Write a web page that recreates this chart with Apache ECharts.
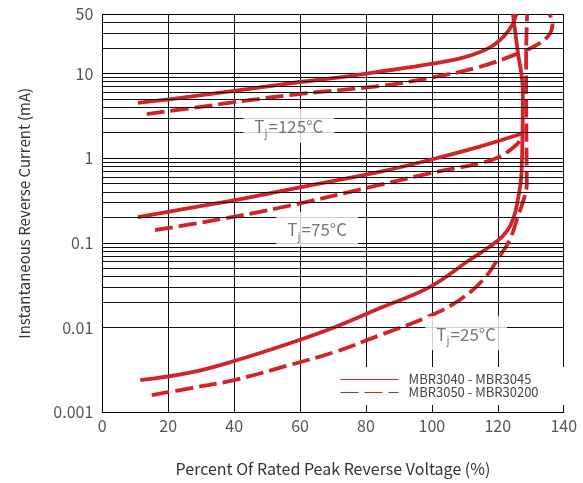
<!DOCTYPE html>
<html>
<head>
<meta charset="utf-8">
<script src="https://cdn.jsdelivr.net/npm/echarts@6/dist/echarts.min.js"></script>
<style>html,body{margin:0;padding:0;background:#fff;}#c{width:583px;height:483px;}</style>
</head>
<body>
<div id="c"></div>
<script>
// ---- data ----
var X_TICKS = [0, 20, 40, 60, 80, 100, 120, 140];
var Y_MINOR = [0.002,0.003,0.004,0.005,0.006,0.007,0.008,0.009,
               0.02,0.03,0.04,0.05,0.06,0.07,0.08,0.09,
               0.2,0.3,0.4,0.5,0.6,0.7,0.8,0.9,
               2,3,4,5,6,7,8,9,
               20,30,40];
var SERIES_NAMES = ['MBR3040 - MBR3045', 'MBR3050 - MBR30200'];
var S125 = [[10.8,4.49],[26.6,5.32],[56.9,7.66],[70,8.8],[84.1,10.5],[99.3,12.9],[110,15.6],[117.5,20.2],[121.8,27.5],[124.3,37],[125.6,50]];
var D125 = [[13.5,3.32],[26.6,3.88],[56.9,5.57],[84.1,7.12],[99.3,8.85],[114.5,12.0],[126.6,17.5],[132.5,22.5],[135.8,29.5],[136.6,39.5],[135.7,50]];
var S75  = [[10.8,0.201],[25,0.252],[40.2,0.32],[53.8,0.405],[60,0.453],[84.1,0.69],[99.3,0.953],[114.5,1.37],[127.6,1.97]];
var D75  = [[16,0.142],[29.6,0.173],[53.8,0.26],[84.1,0.483],[99.3,0.663],[114.5,0.871],[120.5,1.04],[125.6,1.43],[127.3,1.75]];
var S25  = [[11.5,0.0024],[26.6,0.00294],[40,0.00403],[56.9,0.00653],[70.5,0.0101],[84.1,0.0169],[99.3,0.0301],[111.4,0.0628],[117.5,0.090],[121.5,0.12],[123.8,0.16],[125.3,0.23],[126.3,0.36],[127.1,0.58],[127.5,1.99],[127.6,6.1],[126,18.9],[124.6,50]];
var D25  = [[15,0.0016],[26.6,0.00192],[40,0.0024],[56.9,0.00362],[70.5,0.00515],[84.1,0.0081],[99.3,0.0137],[108.4,0.0212],[115.5,0.0365],[120.5,0.0687],[123.6,0.108],[126.1,0.204],[128.1,0.351],[128.8,0.506],[128.7,1.64],[128.6,14.4],[128.9,50]];
var TEMP_LABELS = [
  {temp: '125°C', at: [56.6, 2.40]},
  {temp: '75°C',  at: [65.2, 0.146]},
  {temp: '25°C',  at: [110.4, 0.0086]}
];

// ---- chart ----
var FONT = '"Noto Sans CJK SC", "Noto Sans", sans-serif';
var RED = '#d2232a';
var chart = echarts.init(document.getElementById('c'), null, {renderer: 'canvas'});

function curve(name, data, dashed) {
  return {
    name: name, type: 'line', data: data, z: 3,
    showSymbol: false, symbol: 'none', smooth: 0.4,
    lineStyle: {color: RED, width: 3.8, type: dashed ? [18, 6] : 'solid', cap: 'butt'},
    itemStyle: {color: RED},
    silent: true
  };
}

var option = {
  backgroundColor: '#fff',
  animation: false,
  textStyle: {fontFamily: FONT},
  grid: {left: 102.3, right: 19.3, top: 14.3, bottom: 70.7, containLabel: false},
  legend: {
    data: SERIES_NAMES,
    orient: 'vertical',
    left: 337, top: 367,
    backgroundColor: '#fff',
    padding: [6, 27, 6, 3],
    itemGap: 0,
    itemWidth: 58, itemHeight: 13,
    itemStyle: {opacity: 0},
    lineStyle: {width: 1.2, color: RED, opacity: 1},
    textStyle: {fontSize: 13, color: '#444', fontFamily: FONT, lineHeight: 13, padding: [0, 0, 0, 5]},
    z: 6
  },
  xAxis: {
    type: 'value', min: 0, max: 140, interval: 20,
    name: 'Percent Of Rated Peak Reverse Voltage (%)',
    nameLocation: 'middle', nameGap: 49,
    nameTextStyle: {fontSize: 16, color: '#333', fontFamily: FONT},
    axisLine: {show: true, lineStyle: {color: '#000', width: 1}},
    axisTick: {show: false},
    axisLabel: {fontSize: 16, color: '#555', margin: 6, fontFamily: FONT},
    splitLine: {show: true, lineStyle: {color: '#111', width: 1}}
  },
  yAxis: {
    type: 'log', logBase: 10, min: 0.001, max: 50,
    name: 'Instantaneous Reverse Current (mA)',
    nameLocation: 'middle', nameGap: 71,
    nameTextStyle: {fontSize: 15, color: '#333', fontFamily: FONT},
    axisLine: {show: true, lineStyle: {color: '#000', width: 1}},
    axisTick: {show: false},
    axisLabel: {fontSize: 16, color: '#555', margin: 9, fontFamily: FONT},
    splitLine: {show: true, lineStyle: {color: '#000', width: 1}}
  },
  series: [
    {
      type: 'line', data: [], z: 1, silent: true,
      markLine: {
        silent: true, symbol: 'none', animation: false,
        label: {show: false},
        lineStyle: {color: '#111', width: 1, type: 'solid'},
        data: Y_MINOR.map(function (v) { return {yAxis: v}; })
      }
    },
    curve(SERIES_NAMES[0], S125, false),
    curve(SERIES_NAMES[1], D125, true),
    curve(SERIES_NAMES[0], S75, false),
    curve(SERIES_NAMES[1], D75, true),
    curve(SERIES_NAMES[0], S25, false),
    curve(SERIES_NAMES[1], D25, true),
    {
      type: 'scatter', z: 5, silent: true,
      symbolSize: 1, itemStyle: {color: 'rgba(0,0,0,0)'},
      data: TEMP_LABELS.map(function (d) { return {value: d.at, temp: d.temp}; }),
      label: {
        show: true, position: 'inside',
        backgroundColor: '#fff',
        padding: [7, 11, 5, 11],
        formatter: function (p) { return '{t|T}{s|j}{t|=' + p.data.temp + '}'; },
        rich: {
          t: {fontSize: 17, color: '#555', fontFamily: FONT, lineHeight: 22},
          s: {fontSize: 11, color: '#555', fontFamily: FONT, lineHeight: 22, padding: [12, 1, 0, 0]}
        }
      }
    }
  ]
};
chart.setOption(option);
</script>
</body>
</html>
